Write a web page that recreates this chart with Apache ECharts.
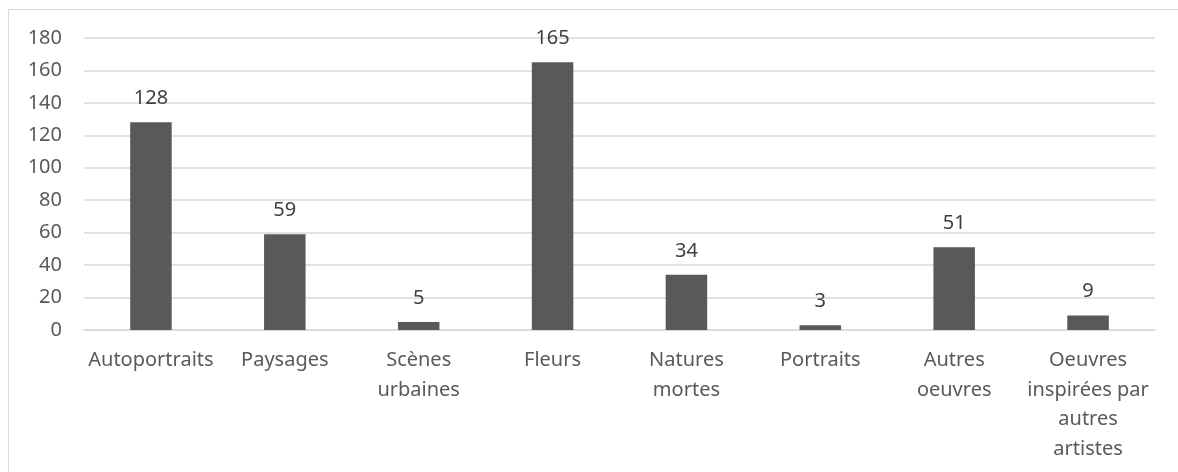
<!DOCTYPE html>
<html><head><meta charset="utf-8">
<script src="https://cdn.jsdelivr.net/npm/echarts@6/dist/echarts.min.js"></script>
<style>
html,body{margin:0;padding:0;background:#fff;}
#frame{position:absolute;left:8px;top:9px;width:1200px;height:500px;border:1px solid #d9d9d9;box-sizing:border-box;}
#c{position:absolute;left:0;top:0;width:1178px;height:472px;}
</style></head>
<body><div id="frame"></div><div id="c"></div>
<script>
const categories = ['Autoportraits','Paysages','Scènes urbaines','Fleurs','Natures mortes','Portraits','Autres oeuvres','Oeuvres inspirées par autres artistes'];
const tickLabels = ['Autoportraits','Paysages','Scènes\nurbaines','Fleurs','Natures\nmortes','Portraits','Autres\noeuvres','Oeuvres\ninspirées par\nautres\nartistes'];
const values = [128,59,5,165,34,3,51,9];
const yTicks = [0,20,40,60,80,100,120,140,160,180];

const chart = echarts.init(document.getElementById('c'));
const font = 'Noto Sans';
chart.setOption({
  animation:false,
  grid:{left:84,right:23,top:38,bottom:142},
  xAxis:{type:'category',data:categories,
    axisLine:{lineStyle:{color:'#d9d9d9',width:1.5}},axisTick:{show:false},
    axisLabel:{color:'#595959',fontFamily:font,fontSize:20,lineHeight:29.5,margin:16,interval:0,
      formatter:(v,i)=>tickLabels[i]}},
  yAxis:{type:'value',min:yTicks[0],max:yTicks[yTicks.length-1],interval:20,
    axisLine:{show:false},axisTick:{show:false},
    splitLine:{lineStyle:{color:'#d9d9d9',width:1.5}},
    axisLabel:{color:'#595959',fontFamily:font,fontSize:20,margin:22}},
  series:[{type:'bar',data:values,barWidth:'31%',itemStyle:{color:'#595959'},
    label:{show:true,position:'top',distance:14,color:'#404040',fontFamily:font,fontSize:20}}]
});
</script></body></html>
